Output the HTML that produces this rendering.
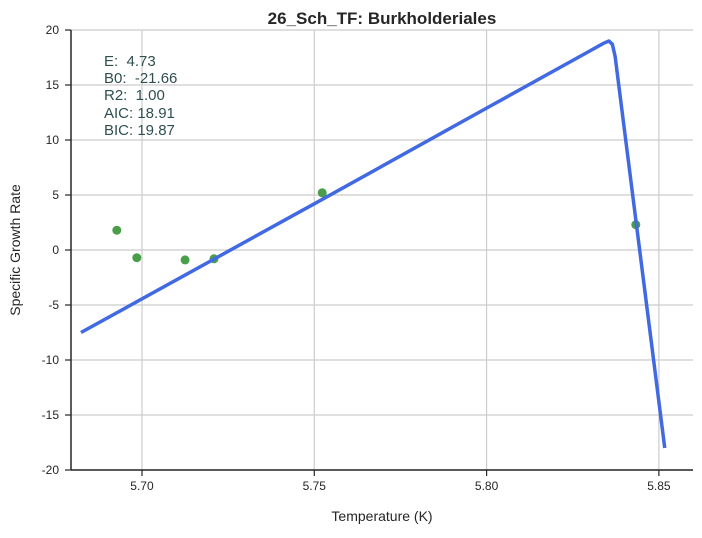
<!DOCTYPE html>
<html><head><meta charset="utf-8"><style>
body{margin:0;background:#fff;font-family:"Liberation Sans",sans-serif;}
</style></head><body>
<svg id="chart" width="702" height="533" xmlns="http://www.w3.org/2000/svg" font-family="Liberation Sans, sans-serif">
<text x="382" y="24" text-anchor="middle" font-size="17" font-weight="bold" fill="#262626">26_Sch_TF: Burkholderiales</text>
<g id="grid"></g><g id="marks"></g><g id="axes"></g>
<g font-size="15" fill="#2f4f4f" style="white-space:pre">
<text x="104" y="66">E:&#160; 4.73</text>
<text x="104" y="83">B0:&#160; -21.66</text>
<text x="104" y="100">R2:&#160; 1.00</text>
<text x="104" y="118">AIC: 18.91</text>
<text x="104" y="135">BIC: 19.87</text>
</g>
<text x="382" y="521" text-anchor="middle" font-size="14" fill="#262626">Temperature (K)</text>
<text transform="translate(20,250) rotate(-90)" text-anchor="middle" font-size="14" fill="#262626">Specific Growth Rate</text>
</svg>
<script>
const xTicks=[5.70,5.75,5.80,5.85];
const yTicks=[-20,-15,-10,-5,0,5,10,15,20];
const obsX=[5.6927,5.6985,5.7125,5.7209,5.7523,5.8433];
const obsY=[1.8,-0.7,-0.9,-0.8,5.2,2.3];
const fitX=[5.6823,5.75,5.80,5.830,5.834,5.8355,5.8365,5.8373,5.8517];
const fitY=[-7.5,4.2,12.9,18.1,18.8,19.0,18.7,17.6,-18.0];
const L=71,R=693,T=30,B=470,xmin=5.6794,xmax=5.8599;
const sx=v=>L+(v-xmin)/(xmax-xmin)*(R-L);
const sy=v=>T+(20-v)/40*(B-T);
const NS="http://www.w3.org/2000/svg";
function mk(p,t,a){const e=document.createElementNS(NS,t);for(const k in a)e.setAttribute(k,a[k]);p.appendChild(e);return e;}
const g=document.getElementById('grid'),m=document.getElementById('marks'),ax=document.getElementById('axes');
xTicks.forEach(v=>{const x=sx(v);
const l=mk(g,'line',{x1:x,x2:x,y1:T,y2:B,stroke:'#cccccc','stroke-width':1.2});

mk(ax,'line',{x1:x,x2:x,y1:B,y2:B+6,stroke:'#262626','stroke-width':1.2});
const t=mk(ax,'text',{x:x,y:B+20,'text-anchor':'middle','font-size':12,fill:'#262626'});t.textContent=v.toFixed(2);
});
yTicks.forEach(v=>{const y=sy(v);
const l=mk(g,'line',{x1:L,x2:R,y1:y,y2:y,stroke:'#cccccc','stroke-width':1.2});

mk(ax,'line',{x1:L-6,x2:L,y1:y,y2:y,stroke:'#262626','stroke-width':1.2});
const t=mk(ax,'text',{x:L-12,y:y+4,'text-anchor':'end','font-size':12,fill:'#262626'});t.textContent=v;
});
const ya=mk(ax,'line',{x1:L,x2:L,y1:T,y2:B,stroke:'#262626','stroke-width':1.5});

const xa=mk(ax,'line',{x1:L,x2:R,y1:B,y2:B,stroke:'#262626','stroke-width':1.5});

obsX.forEach((v,i)=>{const c=mk(m,'circle',{cx:sx(v),cy:sy(obsY[i]),r:4.5,fill:'#4a9e4a'});
});
const p=mk(m,'polyline',{points:fitX.map((v,i)=>sx(v)+','+sy(fitY[i])).join(' '),fill:'none',stroke:'#4169e1','stroke-width':3.5,'stroke-linejoin':'round'});

</script>
</body></html>
